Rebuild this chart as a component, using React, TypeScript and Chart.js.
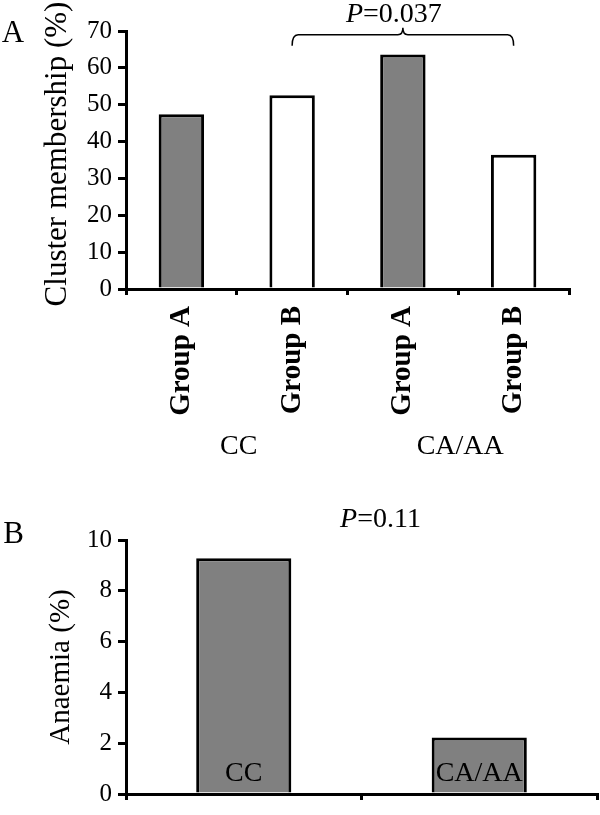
import React, { useEffect, useRef } from "react";
import { Chart, registerables } from "chart.js";

Chart.register(...registerables);

// ---- Data ----
const clusterCategories = ["Group A", "Group B", "Group A", "Group B"];
const clusterValues = [47.4, 52.6, 63.6, 36.4];
const clusterColors = ["#808080", "#ffffff", "#808080", "#ffffff"];
const genotypeGroups = ["CC", "CA/AA"];
const clusterYMax = 70;
const clusterYStep = 10;
const clusterYTitle = "Cluster membership (%)";
const clusterPValue = "0.037";

const anaemiaCategories = ["CC", "CA/AA"];
const anaemiaValues = [9.28, 2.22];
const anaemiaYMax = 10;
const anaemiaYStep = 2;
const anaemiaYTitle = "Anaemia (%)";
const anaemiaPValue = "0.11";

const FAMILY = "'Liberation Serif', 'Times New Roman', serif";

function drawPValue(ctx: CanvasRenderingContext2D, value: string, cx: number, cy: number) {
  ctx.save();
  ctx.fillStyle = "#000";
  ctx.textBaseline = "middle";
  ctx.textAlign = "left";
  const italic = `italic 28px ${FAMILY}`;
  const normal = `28px ${FAMILY}`;
  ctx.font = italic;
  const wP = ctx.measureText("P").width;
  ctx.font = normal;
  const wR = ctx.measureText("=" + value).width;
  const x0 = cx - (wP + wR) / 2;
  ctx.font = italic;
  ctx.fillText("P", x0, cy);
  ctx.font = normal;
  ctx.fillText("=" + value, x0 + wP, cy);
  ctx.restore();
}

function drawRotatedTitle(ctx: CanvasRenderingContext2D, text: string, cx: number, cy: number, size: number) {
  ctx.save();
  ctx.translate(cx, cy);
  ctx.rotate(-Math.PI / 2);
  ctx.fillStyle = "#000";
  ctx.font = `${size}px ${FAMILY}`;
  ctx.textAlign = "center";
  ctx.textBaseline = "middle";
  ctx.fillText(text, 0, 0);
  ctx.restore();
}

function axisCommon(tickLength: number, offset: boolean) {
  return {
    grid: {
      display: true,
      offset,
      drawOnChartArea: false,
      drawTicks: true,
      tickLength,
      color: "#000",
      lineWidth: 3,
    },
    border: { display: true, color: "#000", width: 3 },
  };
}

export default function App() {
  const refA = useRef<HTMLCanvasElement | null>(null);
  const refB = useRef<HTMLCanvasElement | null>(null);

  useEffect(() => {
    if (!refA.current || !refB.current) return;

    const pluginA = {
      id: "annotA",
      afterDraw(chart: any) {
        const ctx = chart.ctx as CanvasRenderingContext2D;
        const xs = chart.scales.x;
        const ys = chart.scales.y;
        ctx.save();
        ctx.fillStyle = "#000";
        ctx.textAlign = "center";
        ctx.textBaseline = "middle";
        ctx.font = `31px ${FAMILY}`;
        ctx.fillText("A", 13, 34);
        ctx.font = `28px ${FAMILY}`;
        genotypeGroups.forEach((g, i) => {
          const x = xs.getPixelForValue(i * 2 + 0.5) + 2;
          ctx.fillText(g, x, 447);
        });
        ctx.restore();
        drawRotatedTitle(ctx, clusterYTitle, 58, (ys.top + ys.bottom) / 2 - 6, 31);
        // bracket between bar 2 and bar 4
        const x1 = xs.getPixelForValue(1);
        const x2 = xs.getPixelForValue(3);
        const xm = (x1 + x2) / 2;
        const y = ys.getPixelForValue(69);
        ctx.save();
        ctx.strokeStyle = "#000";
        ctx.lineWidth = 1.5;
        ctx.beginPath();
        ctx.moveTo(x1, y + 11);
        ctx.quadraticCurveTo(x1, y, x1 + 6, y);
        ctx.lineTo(xm - 5, y);
        ctx.quadraticCurveTo(xm, y, xm, y - 7);
        ctx.quadraticCurveTo(xm, y, xm + 5, y);
        ctx.lineTo(x2 - 6, y);
        ctx.quadraticCurveTo(x2, y, x2, y + 11);
        ctx.stroke();
        ctx.restore();
        drawPValue(ctx, clusterPValue, xm - 9, 15);
      },
    };

    const chartA = new Chart(refA.current, {
      type: "bar",
      data: {
        labels: clusterCategories,
        datasets: [
          {
            data: clusterValues,
            backgroundColor: clusterColors,
            borderColor: "#000",
            borderWidth: 3,
            barPercentage: 0.41,
            categoryPercentage: 1,
          },
        ],
      },
      options: {
        responsive: false,
        animation: false,
        layout: { padding: { left: 0, right: 31, top: 31, bottom: 0 } },
        plugins: { legend: { display: false }, tooltip: { enabled: false } },
        scales: {
          x: {
            ...axisCommon(6, true),
            ticks: {
              autoSkip: false,
              minRotation: 90,
              maxRotation: 90,
              color: "#000",
              padding: 11,
              font: { size: 29, weight: "bold", family: FAMILY },
            },
            afterFit: (s: any) => {
              s.height = 201;
            },
          },
          y: {
            ...axisCommon(8, false),
            min: 0,
            max: clusterYMax,
            ticks: {
              stepSize: clusterYStep,
              color: "#000",
              padding: 6,
              font: { size: 25, family: FAMILY },
            },
            afterFit: (s: any) => {
              s.width = 126;
            },
          },
        },
      } as any,
      plugins: [pluginA],
    });

    const pluginB = {
      id: "annotB",
      afterDraw(chart: any) {
        const ctx = chart.ctx as CanvasRenderingContext2D;
        const xs = chart.scales.x;
        const ys = chart.scales.y;
        ctx.save();
        ctx.fillStyle = "#000";
        ctx.textAlign = "center";
        ctx.textBaseline = "middle";
        ctx.font = `31px ${FAMILY}`;
        ctx.fillText("B", 13.5, 45);
        ctx.font = `28px ${FAMILY}`;
        anaemiaCategories.forEach((c, i) => {
          ctx.fillText(c, xs.getPixelForValue(i), ys.getPixelForValue(0) - 20);
        });
        ctx.restore();
        drawRotatedTitle(ctx, anaemiaYTitle, 61, (ys.top + ys.bottom) / 2, 29);
        drawPValue(ctx, anaemiaPValue, xs.getPixelForValue(0.5) + 19, 30);
      },
    };

    const chartB = new Chart(refB.current, {
      type: "bar",
      data: {
        labels: anaemiaCategories,
        datasets: [
          {
            data: anaemiaValues,
            backgroundColor: "#808080",
            borderColor: "#000",
            borderWidth: 3,
            barPercentage: 0.404,
            categoryPercentage: 1,
          },
        ],
      },
      options: {
        responsive: false,
        animation: false,
        layout: { padding: { left: 0, right: 3, top: 50, bottom: 0 } },
        plugins: { legend: { display: false }, tooltip: { enabled: false } },
        scales: {
          x: {
            ...axisCommon(6, true),
            ticks: { display: false },
            afterFit: (s: any) => {
              s.height = 9;
            },
          },
          y: {
            ...axisCommon(8, false),
            min: 0,
            max: anaemiaYMax,
            ticks: {
              stepSize: anaemiaYStep,
              color: "#000",
              padding: 6,
              font: { size: 25, family: FAMILY },
            },
            afterFit: (s: any) => {
              s.width = 126;
            },
          },
        },
      } as any,
      plugins: [pluginB],
    });

    return () => {
      chartA.destroy();
      chartB.destroy();
    };
  }, []);

  return (
    <div style={{ position: "absolute", left: 0, top: 0, width: 600, height: 815, background: "#fff" }}>
      <canvas ref={refA} width={600} height={490} style={{ position: "absolute", left: 0, top: 0 }} />
      <canvas ref={refB} width={600} height={325} style={{ position: "absolute", left: 0, top: 490 }} />
    </div>
  );
}
